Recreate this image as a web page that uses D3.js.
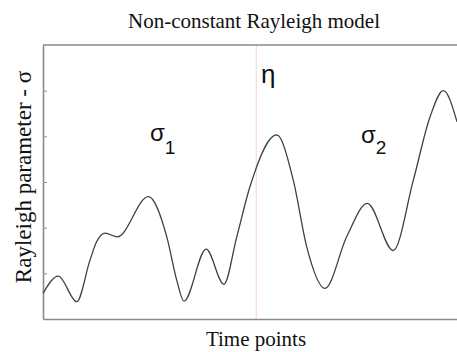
<!DOCTYPE html>
<html>
<head>
<meta charset="utf-8">
<script src="https://cdn.jsdelivr.net/npm/d3@7"></script>
<style>
  body { margin: 0; background: #fff; }
</style>
</head>
<body>
<div class="rayleighChart"></div>
<script>
// time index of each sampled point along the curve
const timePoints = [0, 7.4, 16.3, 22.7, 25.9, 30.0, 35.9, 50.9, 59.8, 64.6, 68.1, 78.8, 87.4, 93.6, 100.0,
                    112.9, 120.9, 127.4, 136.2, 146.7, 156.7, 169.2, 178.9, 187.0, 193.4, 200];
// rayleigh parameter sigma at each time point
const sigmaValues = [0.56, 0.94, 0.38, 1.29, 1.69, 1.88, 1.80, 2.68, 1.80, 0.85, 0.39, 1.53, 0.76, 1.80, 2.90,
                     4.03, 3.04, 1.58, 0.67, 1.80, 2.53, 1.50, 3.04, 4.43, 5.00, 4.32];
const changePoint = 103;   // eta
const yTicks = [1, 2, 3, 4, 5];

const width = 457
const height = 352
const margin = {top: 45, right: 0, bottom: 33, left: 43}

const data = timePoints.map((t, i) => ({t: t, v: sigmaValues[i]}))

const x = d3.scaleLinear()
    .domain([0, 200])
    .range([margin.left, width - margin.right])

const y = d3.scaleLinear()
    .domain([0, 6])
    .range([height - margin.bottom, margin.top])

const svg = d3.select('.rayleighChart')
  .append("svg")
    .attr("width", width)
    .attr("height", height)
    .attr("font-family", "'Liberation Serif', 'Times New Roman', serif")

// change point line
svg.append("line")
    .attr("x1", x(changePoint))
    .attr("x2", x(changePoint))
    .attr("y1", y(6))
    .attr("y2", y(0))
    .attr("stroke", "#f5bcbc")
    .attr("stroke-width", 0.7)

// frame: top line
svg.append("line")
    .attr("x1", x(0))
    .attr("x2", x(200))
    .attr("y1", y(6))
    .attr("y2", y(6))
    .attr("stroke", "#8a8a8a")
    .attr("stroke-width", 1.6)

svg.append("g")
    .attr("transform", `translate(0,${y(0)})`)
    .call(d3.axisBottom(x).tickValues([]).tickSizeOuter(0))
    .call(g => g.select(".domain").attr("stroke", "#8a8a8a").attr("stroke-width", 1.6))

svg.append("g")
    .attr("transform", `translate(${x(0)},0)`)
    .call(d3.axisLeft(y).tickValues(yTicks).tickSizeInner(-4).tickSizeOuter(0).tickFormat(""))
    .call(g => g.select(".domain").attr("stroke", "#8a8a8a").attr("stroke-width", 1.6))
    .call(g => g.selectAll(".tick line").attr("stroke", "#8a8a8a").attr("stroke-width", 1))

const line = d3.line()
    .x(d => x(d.t))
    .y(d => y(d.v))
    .curve(d3.curveMonotoneX)

svg.append("path")
    .datum(data)
    .attr("fill", "none")
    .attr("stroke", "#404040")
    .attr("stroke-width", 1.3)
    .attr("d", line)

// titles
svg.append("text")
    .attr("x", 254)
    .attr("y", 28)
    .attr("text-anchor", "middle")
    .attr("font-size", 21)
    .attr("fill", "#111")
    .text("Non-constant Rayleigh model")

svg.append("text")
    .attr("x", 256)
    .attr("y", 346)
    .attr("text-anchor", "middle")
    .attr("font-size", 21)
    .attr("fill", "#111")
    .text("Time points")

svg.append("text")
    .attr("transform", `translate(31,177) rotate(-90)`)
    .attr("text-anchor", "middle")
    .attr("font-size", 23)
    .attr("fill", "#111")
    .text("Rayleigh parameter - σ")

// annotations
const notes = svg.append("g")
    .attr("font-family", "'Liberation Sans', Arial, sans-serif")
    .attr("fill", "#111")

notes.append("text")
    .attr("x", 261)
    .attr("y", 83)
    .attr("font-size", 26)
    .text("η")

const s1 = notes.append("text")
    .attr("x", 150)
    .attr("y", 141)
    .attr("font-size", 24)
s1.append("tspan").text("σ")
s1.append("tspan").attr("font-size", 19).attr("dy", 13).text("1")

const s2 = notes.append("text")
    .attr("x", 361)
    .attr("y", 143)
    .attr("font-size", 24)
s2.append("tspan").text("σ")
s2.append("tspan").attr("font-size", 19).attr("dy", 11).text("2")
</script>
</body>
</html>
